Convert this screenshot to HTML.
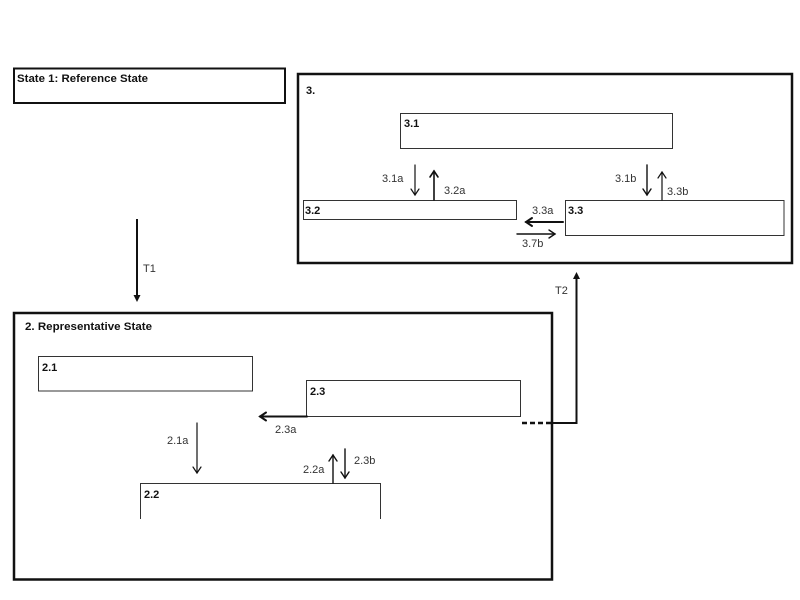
<!DOCTYPE html>
<html>
<head>
<meta charset="utf-8">
<style>
  html,body{margin:0;padding:0;background:#fff;}
  svg{display:block;}
  .b{font-family:"Liberation Sans",sans-serif;font-weight:bold;font-size:11px;fill:#111;}
  .r{font-family:"Liberation Sans",sans-serif;font-size:11px;fill:#333;}
</style>
</head>
<body>
<svg width="800" height="600" viewBox="0 0 800 600" xmlns="http://www.w3.org/2000/svg">
  <rect x="0" y="0" width="800" height="600" fill="#fff"/>

  <!-- State 1 -->
  <rect x="14" y="68.5" width="271" height="34.5" fill="none" stroke="#111" stroke-width="2"/>
  <text class="b" x="17" y="82" textLength="131" lengthAdjust="spacingAndGlyphs">State 1: Reference State</text>

  <!-- Box 3 -->
  <rect x="298" y="74" width="494" height="189" fill="none" stroke="#111" stroke-width="2.5"/>
  <text class="b" x="306" y="94">3.</text>
  <rect x="400.5" y="113.5" width="272" height="35" fill="none" stroke="#333" stroke-width="1"/>
  <text class="b" x="404" y="127">3.1</text>
  <rect x="303.5" y="200.5" width="213" height="19" fill="none" stroke="#333" stroke-width="1"/>
  <text class="b" x="305" y="214">3.2</text>
  <rect x="565.5" y="200.5" width="218.5" height="35" fill="none" stroke="#333" stroke-width="1"/>
  <text class="b" x="568" y="214">3.3</text>

  <g stroke="#111" fill="none" stroke-linecap="round">
    <!-- 3.1a down -->
    <line x1="415" y1="165" x2="415" y2="195" stroke-width="1.2"/>
    <polyline points="411,189 415,195 419,189" stroke-width="1.2"/>
    <!-- 3.2a up -->
    <line x1="434" y1="200" x2="434" y2="171" stroke-width="1.6"/>
    <polyline points="430,177 434,171 438,177" stroke-width="1.6"/>
    <!-- 3.1b down -->
    <line x1="647" y1="165" x2="647" y2="195" stroke-width="1.4"/>
    <polyline points="643,189 647,195 651,189" stroke-width="1.4"/>
    <!-- 3.3b up -->
    <line x1="662" y1="200" x2="662" y2="172" stroke-width="1.2"/>
    <polyline points="658,178 662,172 666,178" stroke-width="1.2"/>
    <!-- 3.3a left -->
    <line x1="563" y1="222" x2="526" y2="222" stroke-width="2"/>
    <polyline points="532,218 526,222 532,226" stroke-width="2"/>
    <!-- 3.7b right -->
    <line x1="517" y1="234" x2="555" y2="234" stroke-width="1.4"/>
    <polyline points="549,230 555,234 549,238" stroke-width="1.4"/>
  </g>
  <text class="r" x="382" y="182">3.1a</text>
  <text class="r" x="444" y="194">3.2a</text>
  <text class="r" x="615" y="182">3.1b</text>
  <text class="r" x="667" y="195">3.3b</text>
  <text class="r" x="532" y="214">3.3a</text>
  <text class="r" x="522" y="247">3.7b</text>

  <!-- T1 -->
  <g stroke="#111" fill="none">
    <line x1="137" y1="219" x2="137" y2="299" stroke-width="2"/>
  </g>
  <polygon points="133.5,295 140.5,295 137,302" fill="#111"/>
  <text class="r" x="143" y="272">T1</text>

  <!-- Box 2 -->
  <rect x="14" y="313" width="538" height="266.5" fill="none" stroke="#111" stroke-width="2.5"/>
  <text class="b" x="25" y="330" textLength="127" lengthAdjust="spacingAndGlyphs">2. Representative State</text>
  <rect x="38.5" y="356.5" width="214" height="34.5" fill="none" stroke="#333" stroke-width="1"/>
  <text class="b" x="42" y="371">2.1</text>
  <rect x="306.5" y="380.5" width="214" height="36" fill="none" stroke="#333" stroke-width="1"/>
  <text class="b" x="310" y="395">2.3</text>
  <polyline points="140.5,519 140.5,483.5 380.5,483.5 380.5,519" fill="none" stroke="#333" stroke-width="1"/>
  <text class="b" x="144" y="498">2.2</text>

  <g stroke="#111" fill="none" stroke-linecap="round">
    <!-- 2.1a down -->
    <line x1="197" y1="423" x2="197" y2="473" stroke-width="1.2"/>
    <polyline points="193,467 197,473 201,467" stroke-width="1.2"/>
    <!-- 2.3a left -->
    <line x1="307" y1="416.5" x2="260" y2="416.5" stroke-width="2"/>
    <polyline points="266,412.5 260,416.5 266,420.5" stroke-width="2"/>
    <!-- 2.2a up -->
    <line x1="333" y1="483" x2="333" y2="455" stroke-width="1.4"/>
    <polyline points="329,461 333,455 337,461" stroke-width="1.4"/>
    <!-- 2.3b down -->
    <line x1="345" y1="449" x2="345" y2="478" stroke-width="1.4"/>
    <polyline points="341,472 345,478 349,472" stroke-width="1.4"/>
  </g>
  <text class="r" x="167" y="444">2.1a</text>
  <text class="r" x="275" y="433">2.3a</text>
  <text class="r" x="303" y="473">2.2a</text>
  <text class="r" x="354" y="464">2.3b</text>

  <!-- T2 connector -->
  <line x1="522" y1="423" x2="552" y2="423" stroke="#111" stroke-width="2.5" stroke-dasharray="5,3"/>
  <polyline points="552,423 576.5,423 576.5,276" fill="none" stroke="#111" stroke-width="2"/>
  <polygon points="573,279 580,279 576.5,272" fill="#111"/>
  <text class="r" x="555" y="294">T2</text>
</svg>
</body>
</html>
